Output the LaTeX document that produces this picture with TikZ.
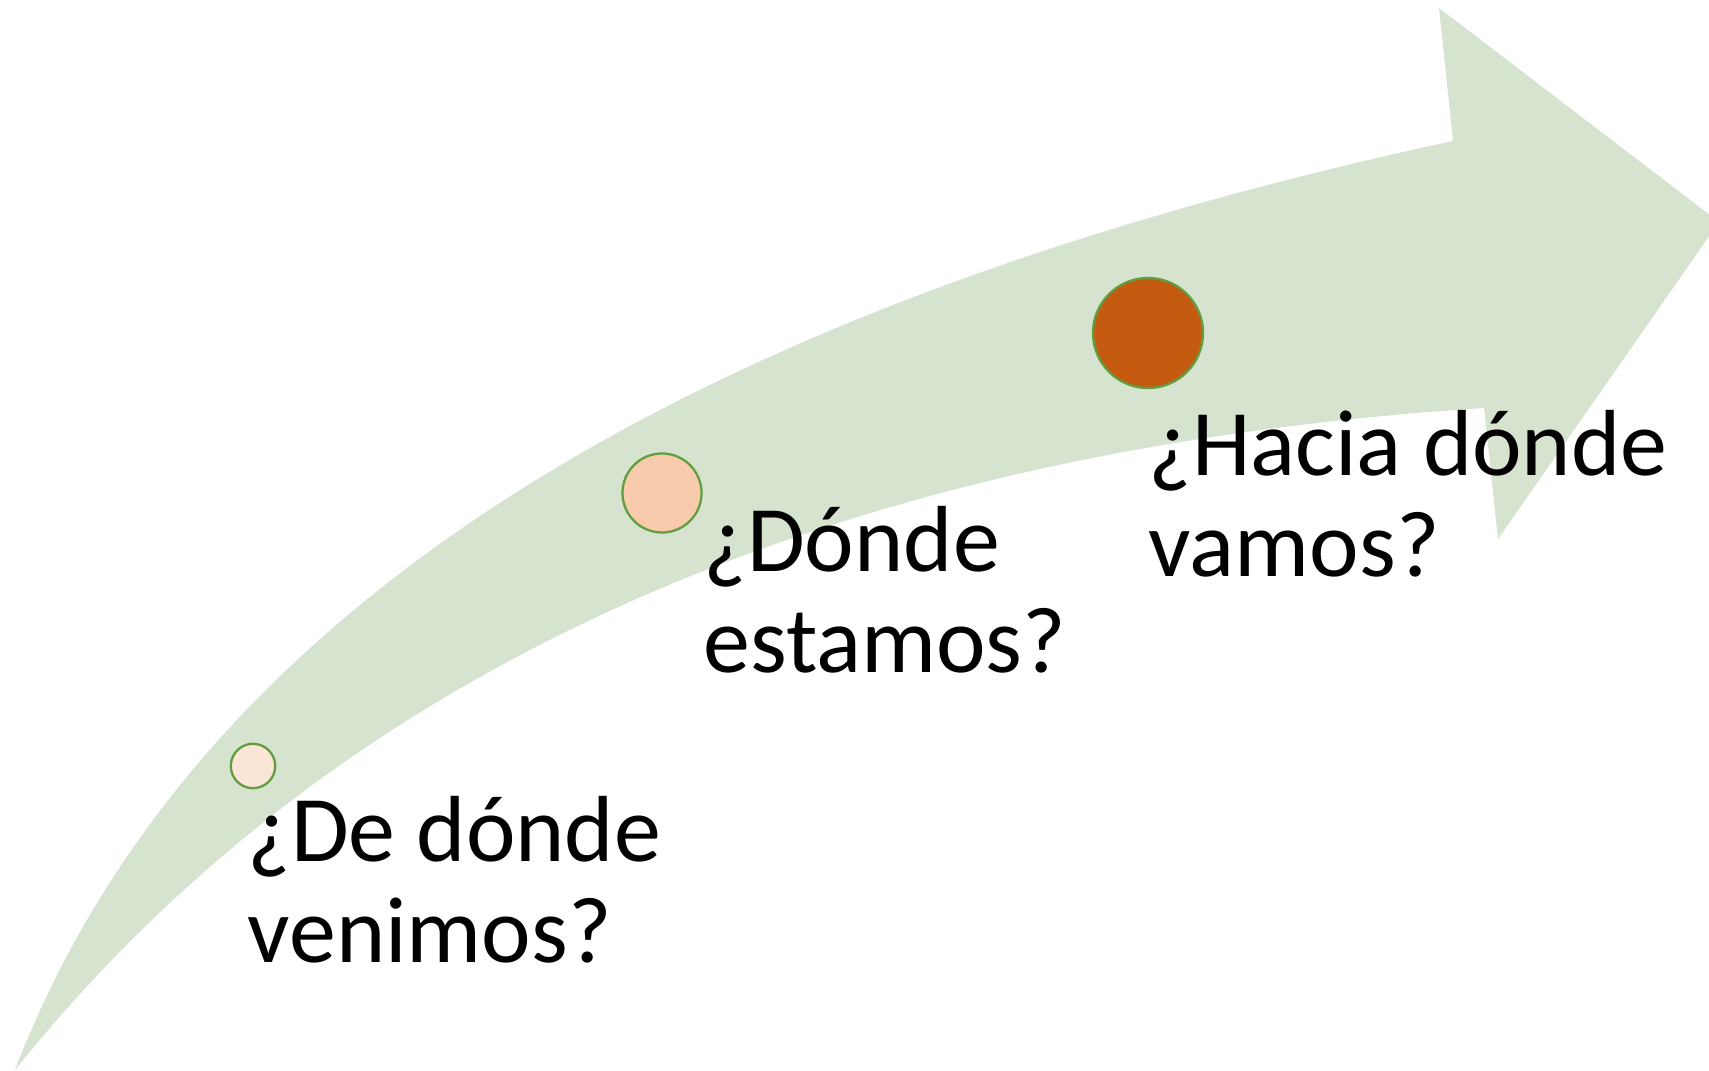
\documentclass[tikz,border=0pt]{standalone}
\usepackage{fontspec}
\setmainfont{Carlito}
\definecolor{band}{HTML}{D6E3CF}
\definecolor{dotA}{HTML}{FBE5D6}
\definecolor{dotB}{HTML}{F8CBAD}
\definecolor{dotC}{HTML}{C55A11}
\definecolor{rim}{HTML}{629D40}
\begin{document}
\begin{tikzpicture}[x=0.01cm,y=-0.01cm,
  dot/.style={circle,draw=rim,line width=0.65pt,inner sep=0pt},
  lbl/.style={anchor=base west,inner sep=0pt,font=\fontsize{26.7pt}{28.7pt}\selectfont}]
\useasboundingbox (0,0) rectangle (1709,1071);
\begin{scope}
\clip (0,0) rectangle (1709,1071);
\fill[band] (15,1070) .. controls (187.7,620) and (667,310.3) .. (1453,141)
  -- (1439,8) -- (1719,222) -- (1498,539) -- (1484,408)
  .. controls (824.3,450.5) and (334.7,671.1) .. (15,1070) -- cycle;
\end{scope}
\node[dot,fill=dotA,minimum size=0.444cm] (c1) at (253,766) {};
\node[dot,fill=dotB,minimum size=0.79cm] (c2) at (662,493) {};
\node[dot,fill=dotC,minimum size=1.10cm] (c3) at (1148,333) {};
\node[lbl] (t1a) at (247,862) {¿De dónde};
\node[lbl] (t1b) at (247,963) {venimos?};
\node[lbl] (t2a) at (703,572) {¿Dónde};
\node[lbl] (t2b) at (703,673) {estamos?};
\node[lbl] (t3a) at (1148,476) {¿Hacia dónde};
\node[lbl] (t3b) at (1148,577) {vamos?};
\end{tikzpicture}
\end{document}
